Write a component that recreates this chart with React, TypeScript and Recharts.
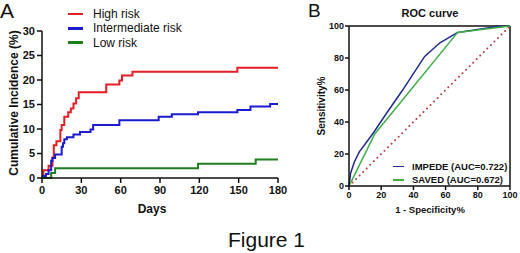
import { LineChart, Line, XAxis, YAxis, Legend, ReferenceLine } from "recharts";

const FONT = '"Liberation Sans", Arial, Helvetica, sans-serif';

// Panel A: cumulative incidence (%) by day, one step series per risk group
const highRisk = [
  [0, 0], [1, 1.6], [5, 2.5], [8, 4.2], [9, 6.7], [11, 7.5], [14, 9.8], [15, 10.8],
  [17, 12.5], [20, 13.4], [22, 14.2], [24, 15.2], [26, 16.3], [28, 17.5], [49, 19.1],
  [59, 19.9], [61, 20.9], [69, 21.7], [149, 22.5], [180, 22.5],
].map(([day, pct]) => ({ day, pct }));

const intermediateRisk = [
  [0, 0], [1, 0.4], [3, 0.8], [5, 1.6], [7, 3.5], [8, 4.1], [10, 4.8], [15, 6.4],
  [16, 7.1], [17, 7.9], [19, 8.3], [24, 8.9], [29, 9.4], [37, 9.9], [39, 10.8],
  [59, 11.8], [89, 12.5], [99, 13.0], [119, 13.4], [149, 13.9], [159, 14.6],
  [174, 15.1], [180, 15.1],
].map(([day, pct]) => ({ day, pct }));

const lowRisk = [
  [0, 0], [7, 1.0], [10, 2.0], [119, 2.9], [163, 3.8], [180, 3.8],
].map(([day, pct]) => ({ day, pct }));

const dayTicks = [0, 30, 60, 90, 120, 150, 180];
const pctTicks = [0, 5, 10, 15, 20, 25, 30];

// Panel B: ROC curves (1 - specificity %, sensitivity %)
const impede = [
  [0, 0], [1, 8], [3.3, 15], [6.5, 21.5], [15, 33], [23, 45], [33, 59.5], [47, 81],
  [56.5, 89.5], [67.5, 96], [80, 97.8], [91, 99.5], [100, 100],
].map(([fpr, sens]) => ({ fpr, sens }));

const saved = [
  [0, 0], [2, 4], [16, 32.5], [67.5, 96], [100, 100],
].map(([fpr, sens]) => ({ fpr, sens }));

const chance = [
  [0, 0], [100, 100],
].map(([fpr, sens]) => ({ fpr, sens }));

const rocTicks = [0, 20, 40, 60, 80, 100];

const axisLine = { stroke: "#111", strokeWidth: 1.5 };

function LegendA({ payload }: any) {
  return (
    <div style={{ fontFamily: FONT, fontSize: 12, color: "#111" }}>
      {(payload || []).map((p: any) => (
        <div key={p.value} style={{ display: "flex", alignItems: "center", height: 14.3 }}>
          <span style={{ display: "inline-block", width: 15, height: 2.5, background: p.color, marginRight: 10 }} />
          {p.value}
        </div>
      ))}
    </div>
  );
}

function LegendB({ payload }: any) {
  const items = (payload || []).filter((p: any) => p.type !== "none" && p.value !== "chance");
  return (
    <div style={{ fontFamily: FONT, fontSize: 9.5, fontWeight: 700, color: "#111" }}>
      {items.map((p: any) => (
        <div key={p.value} style={{ display: "flex", alignItems: "center", height: 13.3, whiteSpace: "nowrap" }}>
          <span style={{ display: "inline-block", width: 11, height: 1.5, background: p.color, marginRight: 8 }} />
          {p.value}
        </div>
      ))}
    </div>
  );
}

export default function App() {
  return (
    <div style={{ position: "absolute", left: 0, top: 0, width: 520, height: 253, background: "#fff", fontFamily: FONT }}>
      <div style={{ position: "absolute", left: 0, top: 0 }}>
        <LineChart width={300} height={220} margin={{ top: 31, right: 22, bottom: 12, left: 0 }}>
          <XAxis
            type="number"
            dataKey="day"
            domain={[0, 180]}
            ticks={dayTicks}
            interval={0}
            height={30}
            tickSize={5}
            tickMargin={3}
            axisLine={axisLine}
            tickLine={axisLine}
            tick={{ fontSize: 11, fontWeight: 700, fill: "#111", fontFamily: FONT }}
          />
          <YAxis
            type="number"
            domain={[0, 30]}
            ticks={pctTicks}
            interval={0}
            width={42}
            tickSize={5}
            tickMargin={2}
            axisLine={axisLine}
            tickLine={axisLine}
            tick={{ fontSize: 11, fontWeight: 700, fill: "#111", fontFamily: FONT }}
          />
          <Line data={highRisk} dataKey="pct" name="High risk" type="stepAfter" stroke="#e41e26" strokeWidth={2} dot={false} isAnimationActive={false} />
          <Line data={intermediateRisk} dataKey="pct" name="Intermediate risk" type="stepAfter" stroke="#1c1ccf" strokeWidth={2} dot={false} isAnimationActive={false} />
          <Line data={lowRisk} dataKey="pct" name="Low risk" type="stepAfter" stroke="#1f7d1f" strokeWidth={2} dot={false} isAnimationActive={false} />
          <Legend
            content={<LegendA />}
            layout="vertical"
            align="center"
            verticalAlign="middle"
            wrapperStyle={{ left: 68, top: 7, width: "auto" }}
          />
        </LineChart>
      </div>

      <div style={{ position: "absolute", left: 300, top: 0 }}>
        <LineChart width={220} height={220} margin={{ top: 26, right: 10, bottom: 10, left: 20 }}>
          <XAxis
            type="number"
            dataKey="fpr"
            domain={[0, 100]}
            ticks={rocTicks}
            interval={0}
            height={24}
            tickSize={4}
            tickMargin={2}
            axisLine={axisLine}
            tickLine={axisLine}
            tick={{ fontSize: 9, fontWeight: 700, fill: "#111", fontFamily: FONT }}
          />
          <YAxis
            type="number"
            domain={[0, 100]}
            ticks={rocTicks}
            interval={0}
            width={29}
            tickSize={4}
            tickMargin={1}
            axisLine={axisLine}
            tickLine={axisLine}
            tick={{ fontSize: 9, fontWeight: 700, fill: "#111", fontFamily: FONT }}
          />
          <ReferenceLine y={100} stroke="#111" strokeWidth={1.5} />
          <ReferenceLine x={100} stroke="#111" strokeWidth={1.5} />
          <Line data={chance} dataKey="sens" name="chance" type="linear" stroke="#b23b3b" strokeWidth={2} strokeDasharray="0 5" strokeLinecap="round" dot={false} legendType="none" isAnimationActive={false} />
          <Line data={impede} dataKey="sens" name="IMPEDE (AUC=0.722)" type="linear" stroke="#1f2a8a" strokeWidth={1.5} dot={false} isAnimationActive={false} />
          <Line data={saved} dataKey="sens" name="SAVED (AUC=0.672)" type="linear" stroke="#3fae49" strokeWidth={1.5} dot={false} isAnimationActive={false} />
          <Legend
            content={<LegendB />}
            layout="vertical"
            align="center"
            verticalAlign="middle"
            wrapperStyle={{ left: 93, top: 160, width: "auto" }}
          />
        </LineChart>
      </div>

      <svg width={520} height={253} style={{ position: "absolute", left: 0, top: 0, pointerEvents: "none" }} fontFamily={FONT} fill="#111">
        <text x={0} y={18} fontSize={21}>A</text>
        <text x={308} y={17} fontSize={19}>B</text>
        <text transform="translate(18,103) rotate(-90)" textAnchor="middle" fontSize={12} fontWeight={700}>Cumulative Incidence (%)</text>
        <text x={152} y={213} textAnchor="middle" fontSize={12} fontWeight={700}>Days</text>
        <text x={430} y={17} textAnchor="middle" fontSize={11} fontWeight={700}>ROC curve</text>
        <text transform="translate(325,106) rotate(-90)" textAnchor="middle" fontSize={10} fontWeight={700}>Sensitivity%</text>
        <text x={430} y={213} textAnchor="middle" fontSize={9.5} fontWeight={700}>1 - Specificity%</text>
        <text x={228} y={247} fontSize={21}>Figure 1</text>
      </svg>
    </div>
  );
}
